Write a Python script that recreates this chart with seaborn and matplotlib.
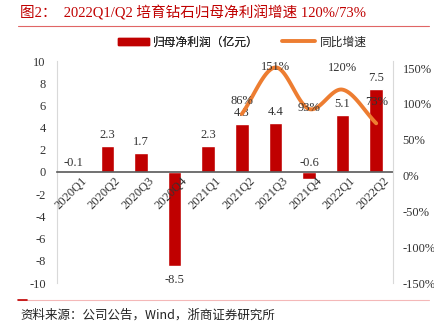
import numpy as np
import pandas as pd
import matplotlib
matplotlib.use("Agg")
import matplotlib.pyplot as plt
import matplotlib.transforms as mtrans
import seaborn as sns
from matplotlib.patches import Patch
from matplotlib.lines import Line2D

quarters = ["2020Q1", "2020Q2", "2020Q3", "2020Q4", "2021Q1", "2021Q2",
            "2021Q3", "2021Q4", "2022Q1", "2022Q2"]
profit = [-0.1, 2.3, 1.7, -8.5, 2.3, 4.3, 4.4, -0.6, 5.1, 7.5]
growth_quarters = ["2021Q2", "2021Q3", "2021Q4", "2022Q1", "2022Q2"]
growth = [86, 151, 93, 120, 73]

sns.set_style("white")
plt.rcParams['font.family'] = ['Noto Sans CJK SC', 'DejaVu Sans']
SERIF = ['Liberation Serif', 'Noto Sans CJK SC']
RED = "#c00000"
ORANGE = "#ed7d31"
GRAY_TXT = "#333333"
FS = 9

fig = plt.figure(figsize=(4.35, 3.22), dpi=100)
ax = fig.add_axes([57/435, 1-283/322, (393-57)/435, (283-61)/322])

df = pd.DataFrame({"q": quarters, "v": profit})
sns.barplot(data=df, x="q", y="v", color=RED, width=0.4, saturation=1, ax=ax)
ax.set_axisbelow(False)
ax.set_xlabel("")
ax.set_ylabel("")
ax.set_ylim(-10, 10)
ax.set_yticks(np.arange(-10, 11, 2))
ax.set_yticklabels([str(v) for v in range(-10, 11, 2)], family=SERIF, fontsize=FS, color=GRAY_TXT)
ax.tick_params(axis='y', length=0, pad=8)
ax.set_xlim(-0.5, 9.5)
for s in ["top", "right"]:
    ax.spines[s].set_visible(False)
ax.spines["left"].set_color("#d9d9d9")
ax.spines["bottom"].set_position(("data", 0))
ax.spines["bottom"].set_color("#595959")
ax.spines["bottom"].set_linewidth(1.2)
ax.spines["bottom"].set_zorder(5)
ax.tick_params(axis='x', length=0, pad=2)
ax.set_xticks(range(len(quarters)))
ax.set_xticklabels(quarters, rotation=45, ha='right', va='top', family=SERIF,
                   fontsize=FS, color=GRAY_TXT, rotation_mode='anchor')
for lbl in ax.get_xticklabels():
    lbl.set_transform(lbl.get_transform() + mtrans.ScaledTranslation(5/72, 0, fig.dpi_scale_trans))

for i, v in enumerate(profit):
    if v >= 0:
        ax.text(i, v + 0.45, f"{v:.1f}", ha='center', va='bottom', family=SERIF, fontsize=FS, color=GRAY_TXT)
    elif v > -2:
        ax.text(i, 0.25, f"{v:.1f}", ha='center', va='bottom', family=SERIF, fontsize=FS, color=GRAY_TXT)
    else:
        ax.text(i, v - 0.7, f"{v:.1f}", ha='center', va='top', family=SERIF, fontsize=FS, color=GRAY_TXT)

ax2 = ax.twinx()
xs = np.array([quarters.index(q) for q in growth_quarters], dtype=float)
ys = np.array(growth, dtype=float)

def catmull_rom(x, y, n=30):
    px = np.concatenate([[2*x[0]-x[1]], x, [2*x[-1]-x[-2]]])
    py = np.concatenate([[2*y[0]-y[1]], y, [2*y[-1]-y[-2]]])
    ox, oy = [], []
    for i in range(1, len(px)-2):
        t = np.linspace(0, 1, n)
        for P, out in ((px, ox), (py, oy)):
            p0, p1, p2, p3 = P[i-1], P[i], P[i+1], P[i+2]
            out.extend(0.5*((2*p1) + (-p0+p2)*t + (2*p0-5*p1+4*p2-p3)*t**2 + (-p0+3*p1-3*p2+p3)*t**3))
    return np.array(ox), np.array(oy)

sx, sy = catmull_rom(xs, ys)
sns.lineplot(x=sx, y=sy, color=ORANGE, linewidth=2.8, ax=ax2, sort=False, estimator=None)
ax2.set_ylim(-150, 160)
ax2.set_yticks(np.arange(-150, 151, 50))
ax2.set_yticklabels([f"{v}%" for v in range(-150, 151, 50)], family=SERIF, fontsize=FS, color=GRAY_TXT)
ax2.tick_params(axis='y', length=0, pad=7)
for s in ["top", "left", "bottom"]:
    ax2.spines[s].set_visible(False)
ax2.spines["right"].set_color("#d9d9d9")
ax2.set_xlim(-0.5, 9.5)

offsets = [18, 0, 2, 30, 30]
for x, y, o in zip(xs, ys, offsets):
    ax2.text(x, y + o, f"{int(y)}%", ha='center', va='center', family=SERIF, fontsize=FS, color=GRAY_TXT)

# title and decorations
fig.text(20/435, 1-13/322, "图2：  2022Q1/Q2 培育钻石归母净利润增速 120%/73%", color=RED,
         fontsize=10.5, va='center', ha='left', family=['Liberation Serif', 'Noto Sans CJK SC'])
fig.add_artist(Line2D([18/435, 429/435], [1-25.5/322, 1-25.5/322], color="#e06666", lw=0.8))
fig.add_artist(Line2D([18/435, 429/435], [1-300/322, 1-300/322], color="#f4b8b8", lw=0.8))
fig.add_artist(Line2D([18/435, 27/435], [1-300/322, 1-300/322], color=RED, lw=1.2))
fig.text(20/435, 1-315/322, "资料来源：公司公告，Wind，浙商证券研究所", color="#222222",
         fontsize=9, va='center', ha='left', family=['Noto Sans CJK SC', 'Liberation Serif'])

# legend (two separate entries positioned like the reference)
leg1 = fig.legend([Patch(color=RED)], ["归母净利润（亿元）"], loc='center left',
                  bbox_to_anchor=(112/435, 1-42/322), frameon=False, fontsize=8.5,
                  handlelength=2.6, handleheight=0.55, handletextpad=0.4, borderpad=0)
fig.add_artist(leg1)
fig.legend([Line2D([0], [0], color=ORANGE, lw=2.8)], ["同比增速"], loc='center left',
           bbox_to_anchor=(276/435, 1-42/322), frameon=False, fontsize=8.5,
           handlelength=2.8, handletextpad=0.4, borderpad=0)

fig.savefig("out.png", dpi=100)
